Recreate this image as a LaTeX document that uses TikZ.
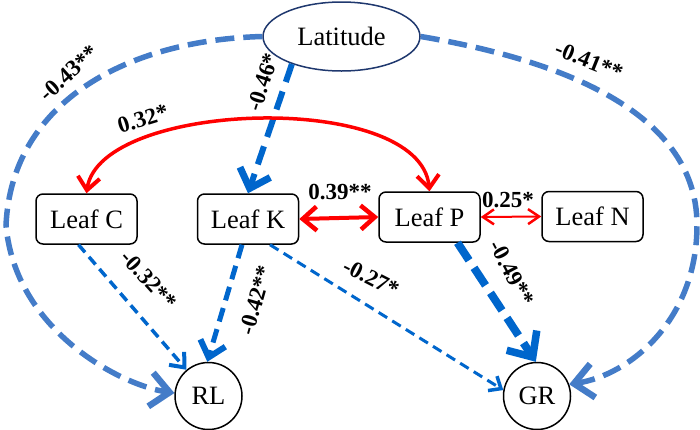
\documentclass[tikz,border=0pt]{standalone}
\usepackage{fontspec}
\setmainfont{Liberation Serif}
\usetikzlibrary{arrows.meta,shapes.geometric}
\definecolor{outerblue}{RGB}{68,124,200}
\definecolor{innerblue}{RGB}{0,102,204}
\definecolor{navyc}{RGB}{31,56,110}
\definecolor{redc}{RGB}{255,0,0}
\begin{document}
\begin{tikzpicture}[x=1pt,y=-1pt,
  nodefont/.style={font=\fontsize{26.5}{30}\selectfont},
  box/.style={nodefont, draw=black, line width=1.5pt, rounded corners=7pt, minimum width=101pt, minimum height=50pt, inner sep=0pt},
  circ/.style={nodefont, draw=black, line width=1.5pt, circle, minimum size=67pt, inner sep=0pt},
  latnode/.style={nodefont, draw=navyc, line width=1.5pt, ellipse, minimum width=157pt, minimum height=69pt, inner sep=0pt},
  lbl/.style={font=\fontsize{23}{26}\selectfont\bfseries, inner sep=0pt},
  outerarrow/.style={draw=outerblue, line width=5.5pt, dash pattern=on 19pt off 9pt, -{Straight Barb[length=19pt,width=34pt,line width=6.5pt]}},
  latkarrow/.style={draw=innerblue, line width=6pt, dash pattern=on 19pt off 10pt, -{Straight Barb[length=17pt,width=32pt,line width=7pt]}},
  crlarrow/.style={draw=innerblue, line width=3.5pt, dash pattern=on 10pt off 6pt, -{Straight Barb[length=12pt,width=20pt,line width=4pt]}},
  krlarrow/.style={draw=innerblue, line width=5pt, dash pattern=on 14pt off 8pt, -{Straight Barb[length=15pt,width=26pt,line width=6pt]}},
  kgrarrow/.style={draw=innerblue, line width=3pt, dash pattern=on 10pt off 6pt, -{Straight Barb[length=10pt,width=17pt,line width=3.5pt]}},
  pgrarrow/.style={draw=innerblue, line width=8pt, dash pattern=on 21pt off 9pt, -{Straight Barb[length=20pt,width=36pt,line width=7.5pt]}},
  redcurve/.style={draw=redc, line width=3.5pt, {Straight Barb[length=13pt,width=22pt,line width=4pt]}-{Straight Barb[length=13pt,width=22pt,line width=4pt]}},
  redthick/.style={draw=redc, line width=4pt, {Straight Barb[length=14pt,width=24pt,line width=4.5pt]}-{Straight Barb[length=14pt,width=24pt,line width=4.5pt]}},
  redthin/.style={draw=redc, line width=2pt, {Straight Barb[length=11pt,width=15pt,line width=2.5pt]}-{Straight Barb[length=11pt,width=15pt,line width=2.5pt]}}
]
\useasboundingbox (0,0) rectangle (700,429);

% nodes
\node[latnode] (lat) at (341.5,36.5) {Latitude};
\node[box] (C) at (86.5,219) {Leaf C};
\node[box] (K) at (248,219) {Leaf K};
\node[box] (P) at (429.5,217) {Leaf P};
\node[box] (N) at (592.5,216.5) {Leaf N};
\node[circ] (RL) at (208.5,396) {RL};
\node[circ] (GR) at (537,396) {GR};

% connectors
\draw[outerarrow] (lat.west) .. controls (130,40) and (12,100) .. (6,225)
   .. controls (15,330) and (120,385) .. (RL.175);
\draw[outerarrow] (lat.east) .. controls (530,55) and (697,100) .. (697,225)
   .. controls (697,320) and (630,375) .. (GR.20);
\draw[latkarrow] (lat.209) -- (K.north);
\draw[redcurve] (C.north) .. controls (100,100) and (420,90) .. (P.north);
\draw[redthick] (K.east) -- (P.west);
\draw[redthin] (P.east) -- (N.west);
\draw[crlarrow] ([xshift=-8pt]C.south) -- (RL.130);
\draw[krlarrow] ([xshift=-6pt]K.south) -- (RL.92);
\draw[kgrarrow] ([xshift=22pt]K.south) -- (GR.170);
\draw[pgrarrow] ([xshift=28pt]P.south) -- (GR.92);

% labels
\node[lbl, rotate=42] (l1) at (69,73) {-0.43**};
\node[lbl, rotate=72] (l2) at (263,82) {-0.46*};
\node[lbl, rotate=-22] (l3) at (589,61) {-0.41**};
\node[lbl, rotate=17] (l4) at (143,119) {0.32*};
\node[lbl] (l5) at (340,192) {0.39**};
\node[lbl] (l6) at (508,200) {0.25*};
\node[lbl, rotate=-48] (l7) at (149,280) {-0.32**};
\node[lbl, rotate=74] (l8) at (256,300) {-0.42**};
\node[lbl, rotate=-27] (l9) at (371,278) {-0.27*};
\node[lbl, rotate=-62] (l10) at (512,273) {-0.49**};
\end{tikzpicture}
\end{document}
